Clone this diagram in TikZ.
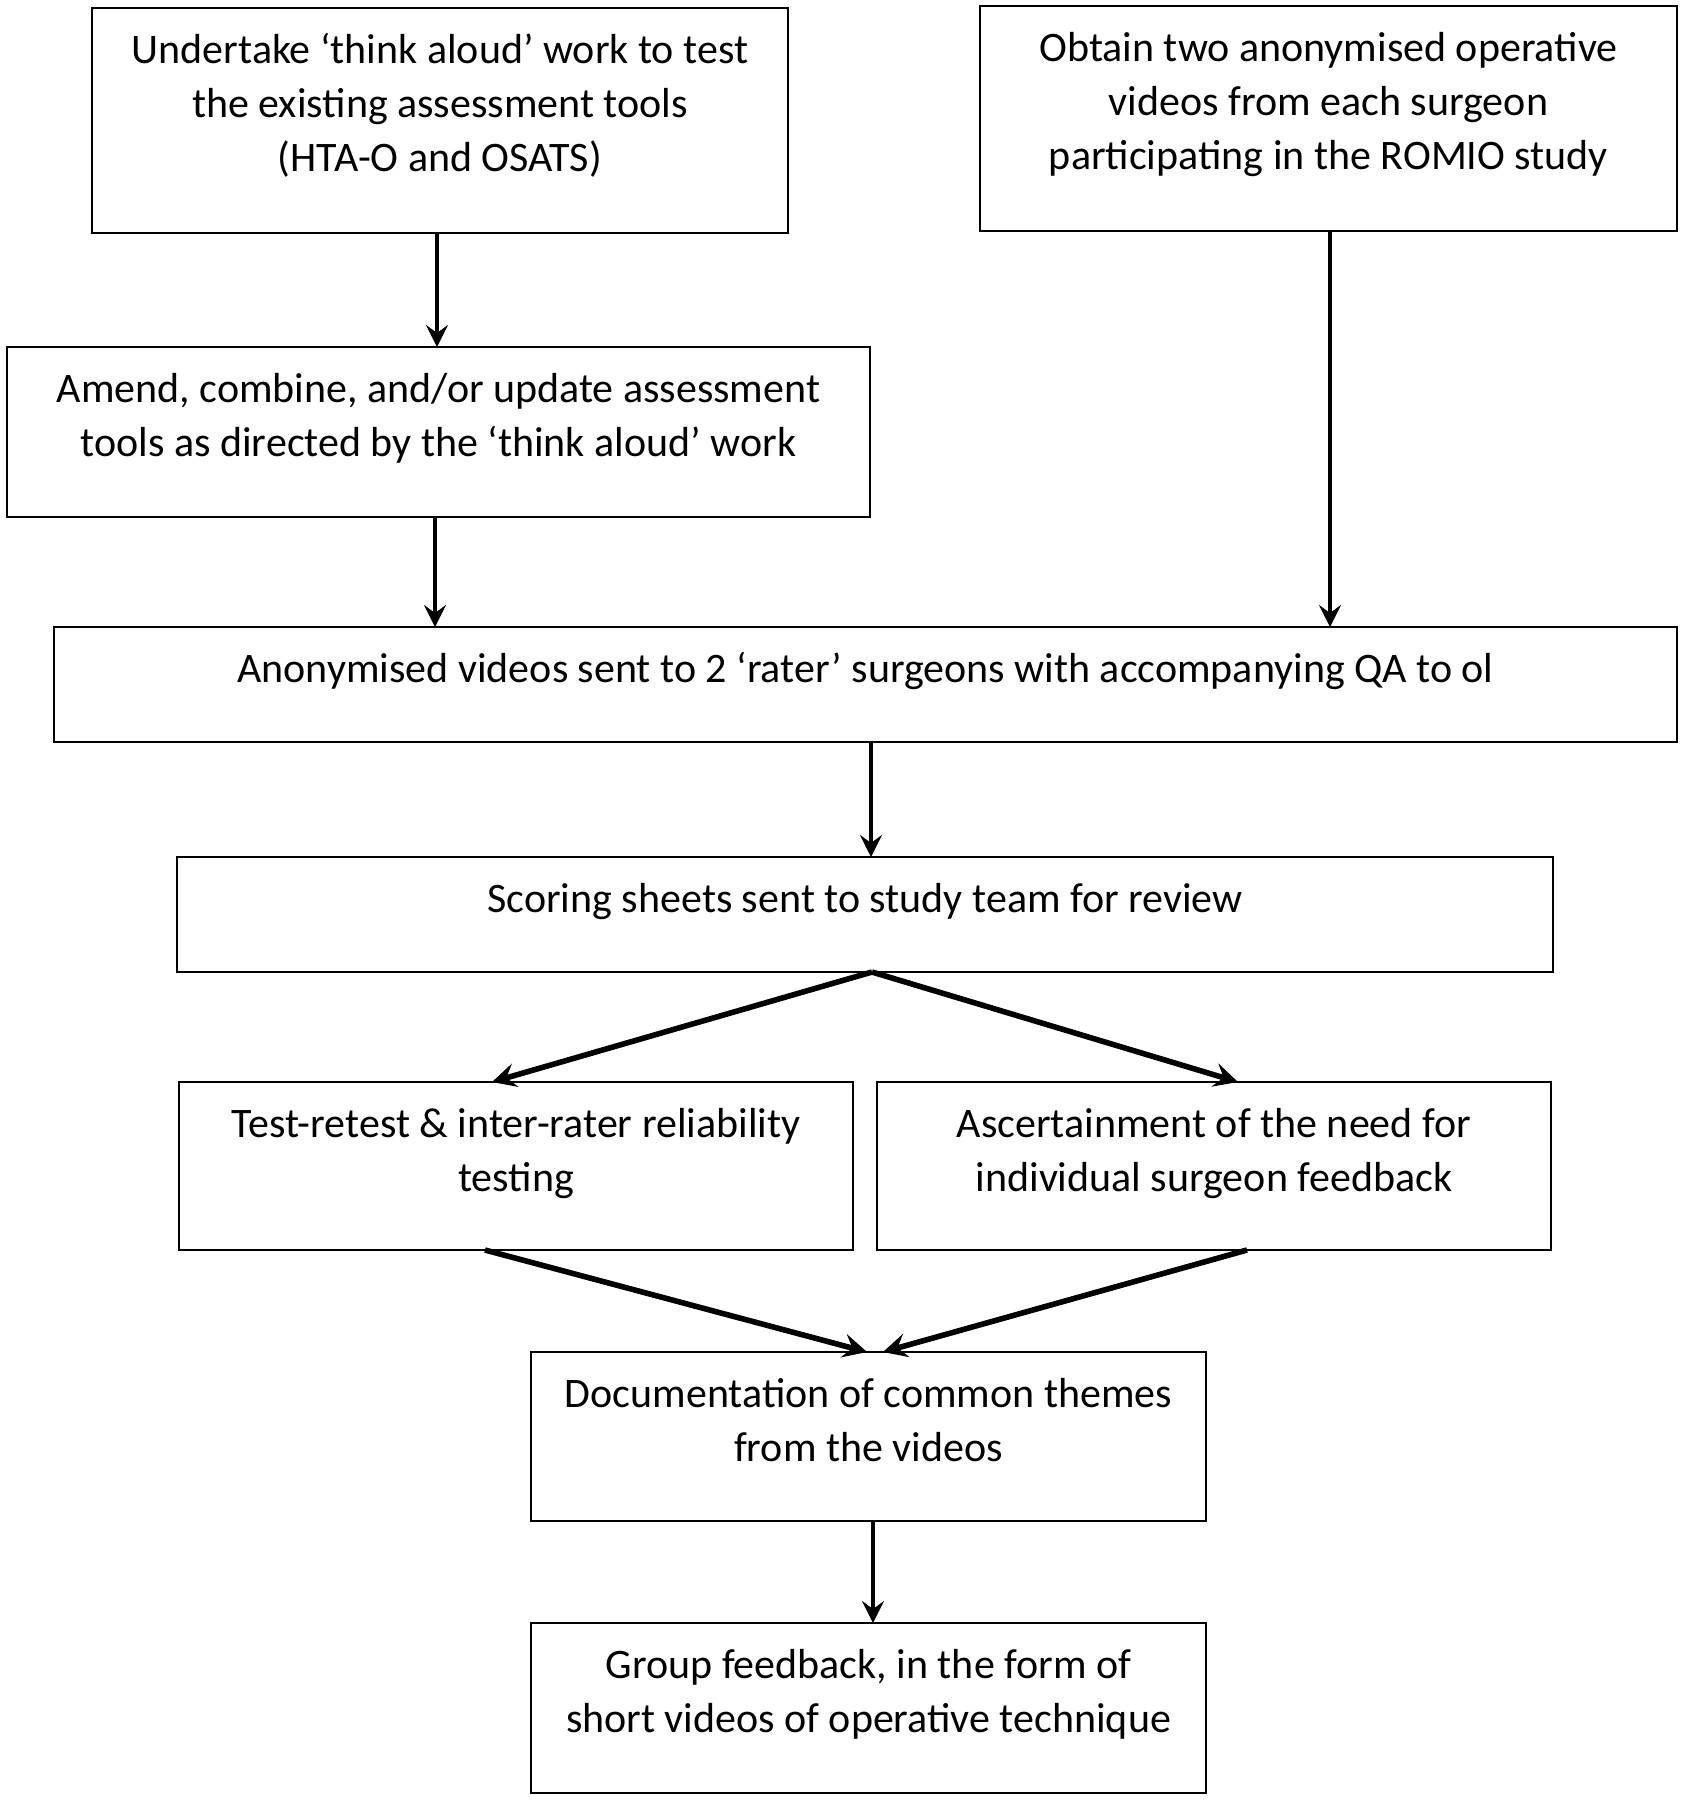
\documentclass[tikz,border=0pt]{standalone}
\usepackage{fontspec}
\setmainfont{Carlito}
\usetikzlibrary{arrows.meta,calc}
% #1 name, #2..#5 box corners (px), #6 number of text lines, #7 text
\newcommand\flowbox[7]{%
  \node[box, minimum width={(#4-#2)*0.5pt}, minimum height={(#5-#3)*0.5pt}] (#1) at ({(#2+#4)/2},{(#3+#5)/2}) {};
  \node[txt] (#1t) at ({(#2+#4)/2},{#3+55+54*(#6-1)}) {#7};}
\begin{document}
\begin{tikzpicture}[x=0.5pt,y=-0.5pt,
  box/.style={draw, line width=1.1pt, inner sep=0pt, outer sep=0pt, rectangle},
  txt/.style={font=\fontsize{21}{27}\selectfont, align=center, anchor=base, inner sep=0pt},
  arr/.style={line width=2pt, -{Stealth[length=11pt,width=11pt,inset=4pt]}},
  farr/.style={line width=2.8pt, -{Stealth[length=12pt,width=12pt,inset=4.5pt]}}]
\useasboundingbox (0,0) rectangle (1684,1800);
\flowbox{b1}{92}{8}{788}{233}{3}{Undertake ‘think aloud’ work to test\\the existing assessment tools\\(HTA-O and OSATS)}
\flowbox{b2}{980}{6}{1677}{231}{3}{Obtain two anonymised operative\\videos from each surgeon\\participating in the ROMIO study}
\flowbox{b3}{7}{347}{870}{517}{2}{Amend, combine, and/or update assessment\\tools as directed by the ‘think aloud’ work}
\flowbox{b4}{54}{627}{1677}{742}{1}{Anonymised videos sent to 2 ‘rater’ surgeons with accompanying QA to ol}
\flowbox{b5}{177}{857}{1553}{972}{1}{Scoring sheets sent to study team for review}
\flowbox{b6}{179}{1082}{853}{1250}{2}{Test-retest \& inter-rater reliability\\testing}
\flowbox{b7}{877}{1082}{1551}{1250}{2}{Ascertainment of the need for\\individual surgeon feedback}
\flowbox{b8}{531}{1352}{1206}{1521}{2}{Documentation of common themes\\from the videos}
\flowbox{b9}{531}{1623}{1206}{1793}{2}{Group feedback, in the form of\\short videos of operative technique}
\coordinate (xa) at (437,0);
\coordinate (xb) at (435,0);
\coordinate (xc) at (1330,0);
\coordinate (xd) at (871,0);
\coordinate (xe) at (873,0);
\draw[arr] (b1.south -| xa) -- (b3.north -| xa);
\draw[arr] (b3.south -| xb) -- (b4.north -| xb);
\draw[arr] (b2.south -| xc) -- (b4.north -| xc);
\draw[arr] (b4.south -| xd) -- (b5.north -| xd);
\coordinate (f5) at (872,972);
\coordinate (t6) at (492,1082);
\coordinate (t7) at (1238,1082);
\draw[farr] (b5.south -| f5) -- (b6.north -| t6);
\draw[farr] (b5.south -| f5) -- (b7.north -| t7);
\coordinate (s6) at (485,1250);
\coordinate (s7) at (1247,1250);
\coordinate (e6) at (867,1352);
\coordinate (e7) at (883,1352);
\draw[farr] (b6.south -| s6) -- (b8.north -| e6);
\draw[farr] (b7.south -| s7) -- (b8.north -| e7);
\draw[arr] (b8.south -| xe) -- (b9.north -| xe);
\end{tikzpicture}
\end{document}
